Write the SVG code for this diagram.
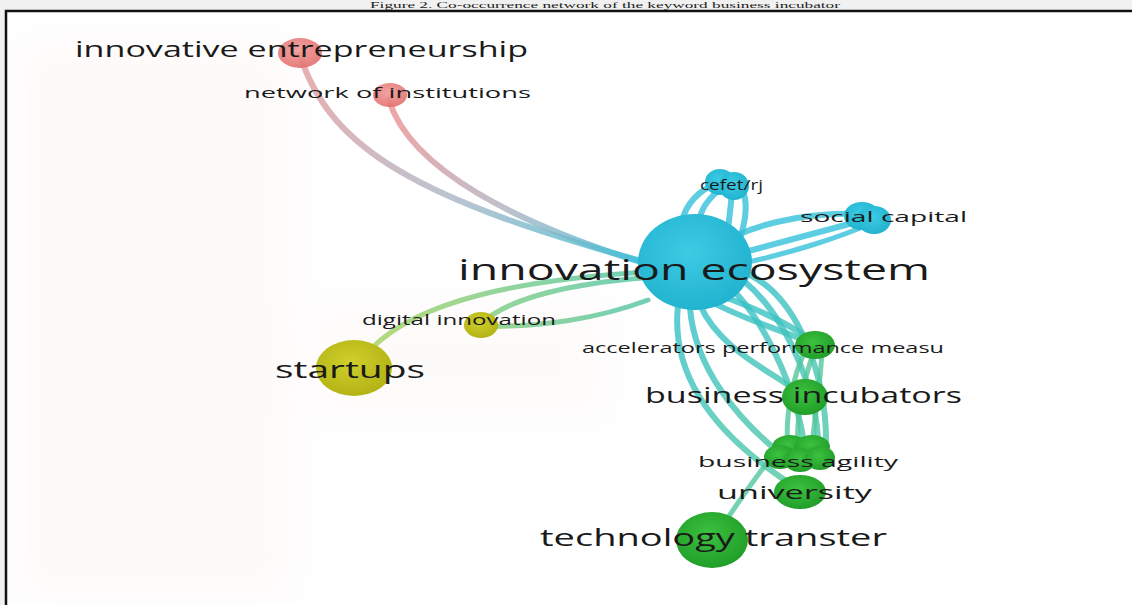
<svg xmlns="http://www.w3.org/2000/svg" width="1132" height="605" viewBox="0 0 1132 605">
  <defs>
    <style>
      .lbl { font-family: "Open Sans", "DejaVu Sans", sans-serif; fill: #1a1a1a; }
      .edge { fill: none; stroke-linecap: round; stroke-opacity: 0.8; }
      .title { font-family: "Liberation Serif", "Times New Roman", serif; font-size: 9px; fill: #222; }
    </style>
    <radialGradient id="gRed" cx="0.45" cy="0.4" r="0.6">
      <stop offset="0" stop-color="#f19a98"/>
      <stop offset="1" stop-color="#e26f6e"/>
    </radialGradient>
    <radialGradient id="gBlue" cx="0.45" cy="0.4" r="0.6">
      <stop offset="0" stop-color="#3ccbe3"/>
      <stop offset="1" stop-color="#22b3d0"/>
    </radialGradient>
    <radialGradient id="gYel" cx="0.45" cy="0.4" r="0.6">
      <stop offset="0" stop-color="#cfd02c"/>
      <stop offset="1" stop-color="#b3b315"/>
    </radialGradient>
    <radialGradient id="gGrn" cx="0.45" cy="0.4" r="0.6">
      <stop offset="0" stop-color="#3cc23f"/>
      <stop offset="1" stop-color="#219e29"/>
    </radialGradient>
    <linearGradient id="eRedBlue" gradientUnits="userSpaceOnUse" x1="300" y1="55" x2="650" y2="265">
      <stop offset="0" stop-color="#e59a9a"/>
      <stop offset="0.5" stop-color="#a9b5c4"/>
      <stop offset="1" stop-color="#37bfd8"/>
    </linearGradient>
    <linearGradient id="eRedBlue2" gradientUnits="userSpaceOnUse" x1="389" y1="97" x2="650" y2="265">
      <stop offset="0" stop-color="#ec8d8d"/>
      <stop offset="0.5" stop-color="#b1b1c0"/>
      <stop offset="1" stop-color="#37bfd8"/>
    </linearGradient>
    <linearGradient id="eYelBlue" gradientUnits="userSpaceOnUse" x1="360" y1="360" x2="650" y2="275">
      <stop offset="0" stop-color="#a9d35a"/>
      <stop offset="1" stop-color="#4cc3a8"/>
    </linearGradient>
    <linearGradient id="eBlueGrn" gradientUnits="userSpaceOnUse" x1="690" y1="290" x2="800" y2="520">
      <stop offset="0" stop-color="#33c0cc"/>
      <stop offset="1" stop-color="#55c99a"/>
    </linearGradient>
    <filter id="haze" x="-20%" y="-20%" width="140%" height="140%">
      <feGaussianBlur stdDeviation="18"/>
    </filter>
  </defs>

  <!-- page background and caption -->
  <rect x="0" y="0" width="1132" height="605" fill="#f0f1f0"/>
  <text class="title" x="605" y="8" text-anchor="middle" textLength="470" lengthAdjust="spacingAndGlyphs">Figure 2. Co-occurrence network of the keyword business incubator</text>
  <rect x="6" y="10" width="1126" height="595" fill="#ffffff"/>

  <!-- faint tint behind the map -->
  <g filter="url(#haze)" opacity="0.3">
    <rect x="15" y="40" width="280" height="560" fill="#fbeeee"/>
    <rect x="310" y="300" width="300" height="120" fill="#fbf0f0"/>
  </g>

  <!-- frame -->
  <path d="M6,605 L6,11 L1132,11" fill="none" stroke="#111" stroke-width="2.5"/>

  <g id="connectors">
    <!-- red cluster to innovation ecosystem -->
    <path class="edge" stroke="url(#eRedBlue)" stroke-width="6" d="M300,55 C330,150 420,200 645,262"/>
    <path class="edge" stroke="url(#eRedBlue2)" stroke-width="6" d="M389,100 C410,170 520,225 650,265"/>
    <!-- yellow cluster to innovation ecosystem -->
    <path class="edge" stroke="url(#eYelBlue)" stroke-width="5" d="M372,348 C420,300 520,280 645,272"/>
    <path class="edge" stroke="url(#eYelBlue)" stroke-width="5" d="M483,322 C510,298 570,284 642,278"/>
    <path class="edge" stroke="url(#eYelBlue)" stroke-width="5" d="M481,326 C540,328 600,318 648,300"/>
    <!-- to cefet/rj -->
    <path class="edge" stroke="#35c1da" stroke-width="6" d="M682,222 C685,205 700,188 718,184"/>
    <path class="edge" stroke="#35c1da" stroke-width="6" d="M700,218 C702,205 715,192 725,186"/>
    <path class="edge" stroke="#35c1da" stroke-width="6" d="M728,230 C730,210 732,198 732,188"/>
    <path class="edge" stroke="#35c1da" stroke-width="6" d="M740,238 C746,220 748,202 742,188"/>
    <!-- to social capital -->
    <path class="edge" stroke="#35c1da" stroke-width="6" d="M735,236 C770,220 820,212 858,214"/>
    <path class="edge" stroke="#35c1da" stroke-width="6" d="M745,252 C790,240 835,228 864,220"/>
    <path class="edge" stroke="#35c1da" stroke-width="5" d="M748,262 C795,252 842,236 870,224"/>
    <!-- downward bundle -->
    <path class="edge" stroke="url(#eBlueGrn)" stroke-width="6" d="M708,300 C740,318 780,330 812,343"/>
    <path class="edge" stroke="url(#eBlueGrn)" stroke-width="6" d="M722,296 C765,312 800,330 818,346"/>
    <path class="edge" stroke="url(#eBlueGrn)" stroke-width="6" d="M700,305 C720,350 770,370 802,395"/>
    <path class="edge" stroke="url(#eBlueGrn)" stroke-width="6" d="M690,308 C695,370 740,420 776,450"/>
    <path class="edge" stroke="url(#eBlueGrn)" stroke-width="6" d="M678,306 C670,380 720,440 800,490"/>
    <path class="edge" stroke="url(#eBlueGrn)" stroke-width="6" d="M735,292 C770,330 800,400 805,452"/>
    <path class="edge" stroke="url(#eBlueGrn)" stroke-width="6" d="M745,282 C790,320 820,400 818,452"/>
    <path class="edge" stroke="url(#eBlueGrn)" stroke-width="6" d="M750,275 C800,300 828,380 826,450"/>
    <path class="edge" stroke="#52c79e" stroke-width="5" d="M808,345 C790,380 785,420 788,452"/>
    <path class="edge" stroke="#52c79e" stroke-width="5" d="M815,348 C800,390 796,425 798,452"/>
    <path class="edge" stroke="#52c79e" stroke-width="5" d="M822,350 C820,395 812,430 812,452"/>
    <path class="edge" stroke="#52c79e" stroke-width="5" d="M776,452 C760,470 740,500 716,535"/>
  </g>

  <g id="node-innovative-entrepreneurship">
    <ellipse cx="300" cy="53" rx="22" ry="15" fill="url(#gRed)" fill-opacity="0.9"/>
    <text class="lbl" x="75" y="57" font-size="21" textLength="453" lengthAdjust="spacingAndGlyphs">innovative entrepreneurship</text>
  </g>
  <g id="node-network-of-institutions">
    <ellipse cx="390" cy="95" rx="17" ry="12" fill="url(#gRed)" fill-opacity="0.9"/>
    <text class="lbl" x="244" y="98" font-size="15" textLength="287" lengthAdjust="spacingAndGlyphs">network of institutions</text>
  </g>
  <g id="node-cefet-rj">
    <ellipse cx="720" cy="182" rx="15" ry="13" fill="url(#gBlue)"/>
    <ellipse cx="734" cy="186" rx="15" ry="14" fill="url(#gBlue)"/>
    <text class="lbl" x="700" y="190" font-size="15" textLength="63" lengthAdjust="spacingAndGlyphs">cefet/rj</text>
  </g>
  <g id="node-social-capital">
    <ellipse cx="862" cy="216" rx="18" ry="14" fill="url(#gBlue)"/>
    <ellipse cx="874" cy="220" rx="17" ry="14" fill="url(#gBlue)"/>
    <text class="lbl" x="800" y="222" font-size="15" textLength="167" lengthAdjust="spacingAndGlyphs">social capital</text>
  </g>
  <g id="node-innovation-ecosystem">
    <ellipse cx="695" cy="262" rx="57" ry="48" fill="url(#gBlue)"/>
    <text class="lbl" x="458" y="280" font-size="29" textLength="472" lengthAdjust="spacingAndGlyphs">innovation ecosystem</text>
  </g>
  <g id="node-digital-innovation">
    <ellipse cx="481" cy="325" rx="17" ry="13" fill="url(#gYel)"/>
    <text class="lbl" x="362" y="325" font-size="15" textLength="194" lengthAdjust="spacingAndGlyphs">digital innovation</text>
  </g>
  <g id="node-startups">
    <ellipse cx="354" cy="368" rx="38" ry="28" fill="url(#gYel)"/>
    <text class="lbl" x="275" y="378" font-size="23" textLength="150" lengthAdjust="spacingAndGlyphs">startups</text>
  </g>
  <g id="node-accelerators">
    <ellipse cx="815" cy="345" rx="20" ry="14" fill="url(#gGrn)"/>
    <text class="lbl" x="582" y="353" font-size="15" textLength="362" lengthAdjust="spacingAndGlyphs">accelerators performance measu</text>
  </g>
  <g id="node-business-incubators">
    <ellipse cx="805" cy="397" rx="23" ry="18" fill="url(#gGrn)"/>
    <text class="lbl" x="645" y="403" font-size="21" textLength="317" lengthAdjust="spacingAndGlyphs">business incubators</text>
  </g>
  <g id="node-business-agility">
    <ellipse cx="790" cy="447" rx="18" ry="12" fill="url(#gGrn)"/>
    <ellipse cx="812" cy="447" rx="18" ry="12" fill="url(#gGrn)"/>
    <ellipse cx="780" cy="457" rx="16" ry="12" fill="url(#gGrn)"/>
    <ellipse cx="800" cy="460" rx="16" ry="12" fill="url(#gGrn)"/>
    <ellipse cx="820" cy="458" rx="15" ry="12" fill="url(#gGrn)"/>
    <text class="lbl" x="698" y="467" font-size="15" textLength="200" lengthAdjust="spacingAndGlyphs">business agility</text>
  </g>
  <g id="node-university">
    <ellipse cx="800" cy="492" rx="26" ry="17" fill="url(#gGrn)"/>
    <text class="lbl" x="717" y="499" font-size="19" textLength="155" lengthAdjust="spacingAndGlyphs">university</text>
  </g>
  <g id="node-technology-transfer">
    <ellipse cx="712" cy="540" rx="36" ry="28" fill="url(#gGrn)"/>
    <text class="lbl" x="540" y="546" font-size="23" textLength="347" lengthAdjust="spacingAndGlyphs">technology transter</text>
  </g>
</svg>
